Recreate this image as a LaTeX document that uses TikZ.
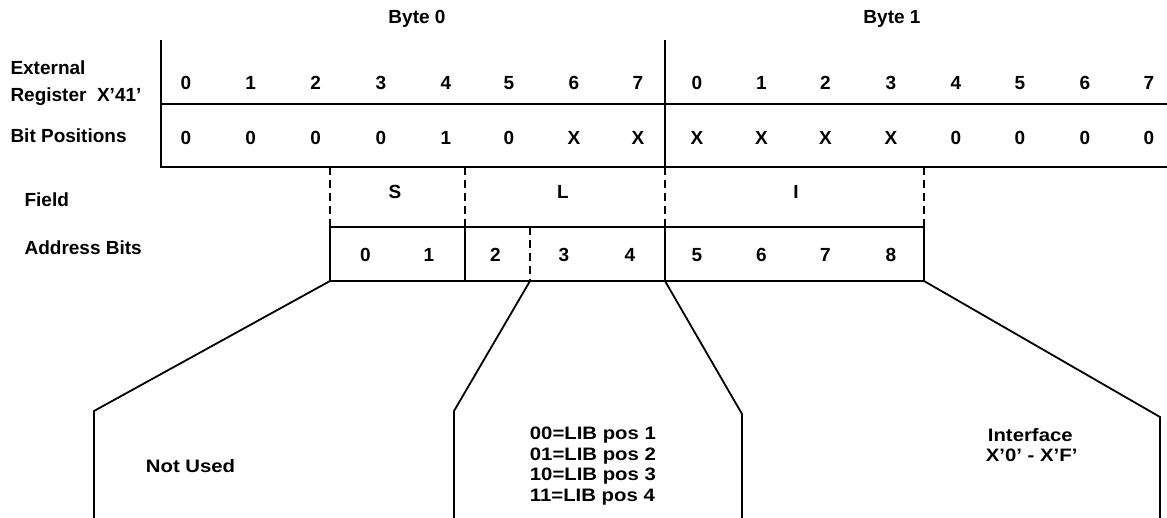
\documentclass[tikz,border=0pt]{standalone}
\usepackage{fontspec}
\setmainfont{Liberation Sans}
\newfontfamily\lowfont[FakeStretch=1.13]{Liberation Sans}
\begin{document}
\begin{tikzpicture}[x=1pt,y=-1pt,line width=1.8pt,
  lbl/.style={font=\fontsize{19}{22}\selectfont\bfseries,inner sep=0pt,anchor=base west},
  dig/.style={font=\fontsize{19}{22}\selectfont\bfseries,inner sep=0pt,anchor=base},
  low/.style={font=\lowfont\fontsize{18}{20}\selectfont\bfseries,inner sep=0pt,anchor=base west},
  sepline/.style={line width=1.8pt,dash pattern=on 8pt off 5pt},
  framel/.style={line width=1.8pt}]
\useasboundingbox (0,0) rectangle (1167,518);
% register frame
\coordinate (rtl) at (161,40);
\coordinate (rbl) at (161,167);
\coordinate (rml) at (161,104);
\coordinate (rmr) at (1167,104);
\coordinate (rbr) at (1167,167);
\coordinate (dvt) at (665,40);
\coordinate (dvb) at (665,167);
\draw[framel] (rtl) -- (rbl) -- (rbr);
\draw[framel] (rml) -- (rmr);
\draw[framel] (dvt) -- (dvb);
% byte labels
\node[dig] (b0) at (417,23.5) {Byte 0};
\node[dig] (b1) at (892,23.5) {Byte 1};
% row labels
\node[lbl] (ext) at (9.6,75) {External};
\node[lbl] (reg) at (9.6,102) {Register\ \ X’41’};
\node[lbl] (bitp) at (9.6,143) {Bit Positions};
\node[lbl] (fld) at (23.7,207) {Field};
\node[lbl] (adr) at (23.7,255) {Address Bits};
% bit numbers and values
\foreach \x/\n/\v [count=\i] in {186/0/0,250.7/1/0,315.7/2/0,380.8/3/0,445.8/4/1,509/5/0,574/6/X,638/7/X,
  697/0/X,761.5/1/X,825.5/2/X,891/3/X,956/4/0,1020/5/0,1085/6/0,1149/7/0}{
  \node[dig] (n\i) at (\x,90) {\n};
  \node[dig] (v\i) at (\x,145) {\v};
}
% field separators
\coordinate (s1t) at (330,167);  \coordinate (s1b) at (330,227);
\coordinate (s2t) at (465,167);  \coordinate (s2b) at (465,227);
\coordinate (s3t) at (665,167);  \coordinate (s3b) at (665,227);
\coordinate (s4t) at (924,167);  \coordinate (s4b) at (924,227);
\draw[sepline] (s1t) -- (s1b);
\draw[sepline] (s2t) -- (s2b);
\draw[sepline] (s3t) -- (s3b);
\draw[sepline] (s4t) -- (s4b);
\node[dig] (fS) at (395,199) {S};
\node[dig] (fL) at (563,199) {L};
\node[dig] (fI) at (796,199) {I};
% address box
\coordinate (abl) at (330,281);
\coordinate (abr) at (924,281);
\coordinate (a2b) at (465,281);
\coordinate (a3t) at (530,227);
\coordinate (a3b) at (530,281);
\coordinate (a4b) at (665,281);
\draw[framel] (s1b) rectangle (abr);
\draw[framel] (s2b) -- (a2b);
\draw[framel] (s3b) -- (a4b);
\draw[sepline] (a3t) -- (a3b);
\foreach \x/\n in {365.5/0,429/1,495.5/2,564/3,630/4,697/5,761.5/6,825.5/7,891/8}{
  \node[dig] (ad\n) at (\x,262) {\n};
}
% fan-out lines
\coordinate (k1) at (94,411);   \coordinate (e1) at (94,518);
\coordinate (k2) at (454,411);  \coordinate (e2) at (454,518);
\coordinate (k3) at (742,414);  \coordinate (e3) at (742,518);
\coordinate (k4) at (1160,417); \coordinate (e4) at (1160,518);
\draw[framel] (abl) -- (k1) -- (e1);
\draw[framel] (a3b) -- (k2) -- (e2);
\draw[framel] (a4b) -- (k3) -- (e3);
\draw[framel] (abr) -- (k4) -- (e4);
% lower texts
\node[low] (nu) at (145,472.5) {Not Used};
\node[low] (lib1) at (529,439.5) {00=LIB pos 1};
\node[low] (lib2) at (529,460) {01=LIB pos 2};
\node[low] (lib3) at (529,480.5) {10=LIB pos 3};
\node[low] (lib4) at (529,501) {11=LIB pos 4};
\node[low] (if1) at (987,441) {Interface};
\node[low] (if2) at (985,461) {X’0’ - X’F’};
\end{tikzpicture}
\end{document}
